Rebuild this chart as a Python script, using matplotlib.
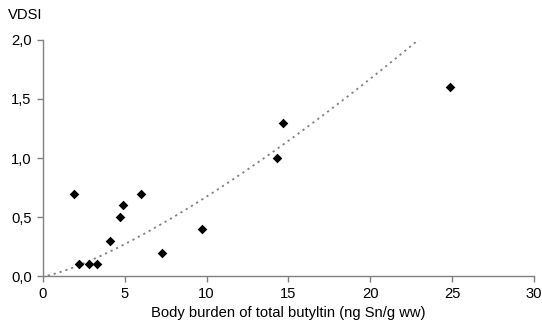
import numpy as np
import matplotlib.pyplot as plt
from matplotlib.ticker import FuncFormatter

plt.rcParams['font.family'] = ['Liberation Sans', 'DejaVu Sans']

# body burden (ng Sn/g ww) and VDSI
tbt = [1.9, 2.2, 2.8, 3.3, 4.1, 4.7, 4.9, 6.0, 7.3, 9.7, 14.3, 14.7, 24.9]
vdsi = [0.7, 0.1, 0.1, 0.1, 0.3, 0.5, 0.6, 0.7, 0.2, 0.4, 1.0, 1.3, 1.6]

# power trend line y = a * x^b
trend_a = 0.033
trend_b = 1.31
trend_range = (0.3, 23.1)

fig = plt.figure(figsize=(5.42, 3.27), dpi=100)
ax = fig.add_axes([0.079, 0.155, 0.906, 0.723])

xs = np.linspace(trend_range[0], trend_range[1], 200)
ax.plot(xs, trend_a * xs ** trend_b, color='#808080', ls=(0, (1.2, 2.2)), lw=1.3)
ax.scatter(tbt, vdsi, marker='D', s=24, color='black', zorder=3, linewidths=0)

ax.set_xlim(0, 30)
ax.set_ylim(0, 2.0)
ax.set_xticks([0, 5, 10, 15, 20, 25, 30])
ax.set_yticks([0, 0.5, 1.0, 1.5, 2.0])
ax.yaxis.set_major_formatter(FuncFormatter(lambda v, p: f"{v:.1f}".replace('.', ',')))

for s in ['top', 'right']:
    ax.spines[s].set_visible(False)
for s in ['left', 'bottom']:
    ax.spines[s].set_color('#808080')
    ax.spines[s].set_linewidth(1.0)
ax.tick_params(direction='out', length=4, width=1, color='#808080', labelsize=10.6, pad=4)

ax.set_xlabel('Body burden of total butyltin (ng Sn/g ww)', fontsize=10.6, labelpad=3)
fig.text(0.015, 0.955, 'VDSI', fontsize=10.6, ha='left', va='center')

fig.savefig('out.png', dpi=100)
